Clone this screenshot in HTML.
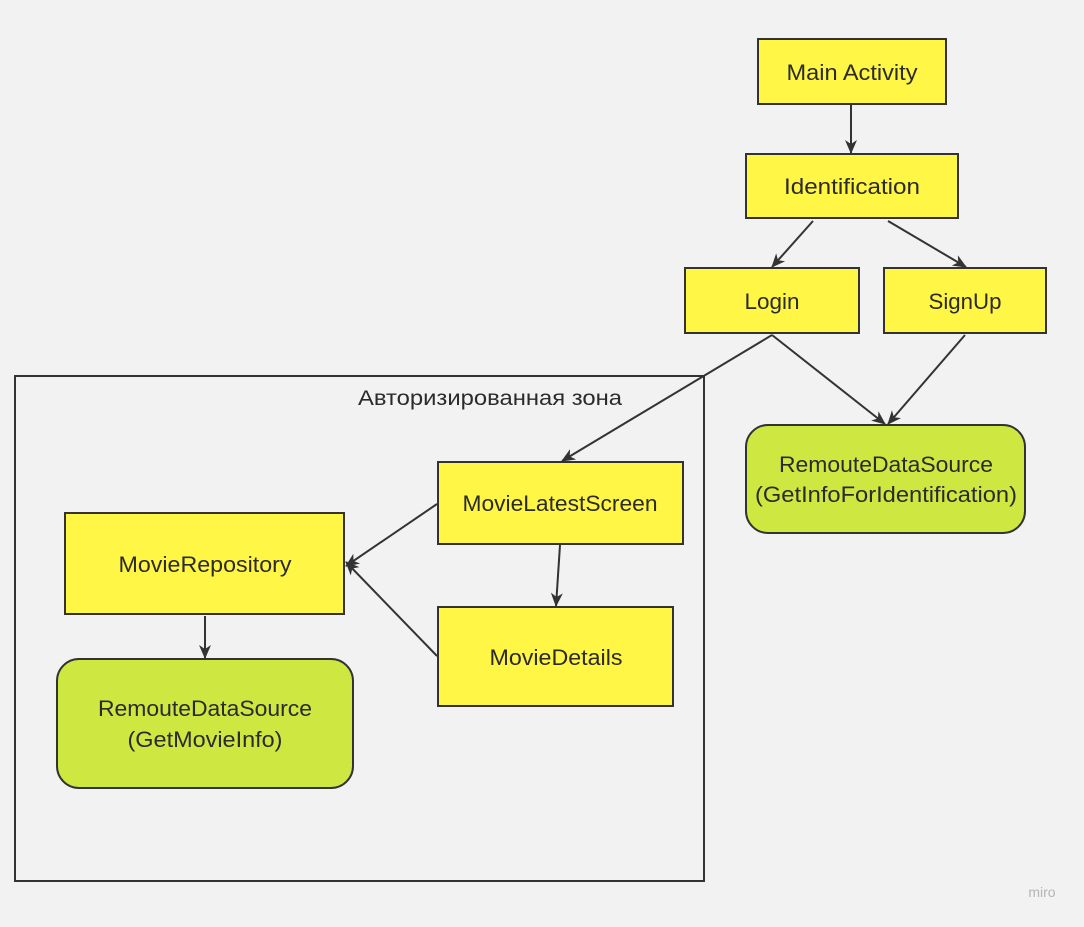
<!DOCTYPE html>
<html><head><meta charset="utf-8"><style>
html,body{margin:0;padding:0;background:#f2f2f2;}
svg text{font-family:"Liberation Sans","DejaVu Sans",sans-serif;fill:#2b2b2b;}
</style></head><body>
<svg width="1084" height="922" viewBox="0 0 1084 922" xmlns="http://www.w3.org/2000/svg">
<defs>
<marker id="a" markerWidth="14" markerHeight="14" refX="13" refY="7" orient="auto" markerUnits="userSpaceOnUse" viewBox="0 0 14 14">
<path d="M0,1 L14,7 L0,13 L4,7 Z" fill="#333"/>
</marker>
</defs>
<rect width="1084" height="922" fill="#f2f2f2"/>
<rect x="15" y="376" width="689" height="505" fill="none" stroke="#333" stroke-width="2"/>
<text x="490" y="405" font-size="21" text-anchor="middle" fill="#444" textLength="264" lengthAdjust="spacingAndGlyphs">Авторизированная зона</text>
<g stroke="#333" stroke-width="2" fill="#fff645">
<rect x="758" y="39" width="188" height="65"/>
<rect x="746" y="154" width="212" height="64"/>
<rect x="685" y="268" width="174" height="65"/>
<rect x="884" y="268" width="162" height="65"/>
<rect x="438" y="462" width="245" height="82"/>
<rect x="65" y="513" width="279" height="101"/>
<rect x="438" y="607" width="235" height="99"/>
<rect x="746" y="425" width="279" height="108" rx="22" fill="#cee741"/>
<rect x="57" y="659" width="296" height="129" rx="22" fill="#cee741"/>
</g>
<g stroke="#333" stroke-width="2" fill="none" marker-end="url(#a)">
<line x1="851" y1="105" x2="851" y2="153"/>
<line x1="813" y1="221" x2="772" y2="267"/>
<line x1="888" y1="221" x2="966" y2="267"/>
<line x1="772" y1="335" x2="562" y2="461"/>
<line x1="772" y1="335" x2="885" y2="424"/>
<line x1="965" y1="335" x2="888" y2="424"/>
<line x1="437" y1="504" x2="346" y2="566"/>
<line x1="437" y1="656" x2="346" y2="562"/>
<line x1="560" y1="545" x2="556" y2="606"/>
<line x1="205" y1="616" x2="205" y2="658"/>
</g>
<g font-size="22" text-anchor="middle" lengthAdjust="spacingAndGlyphs">
<text x="852" y="80" textLength="131" lengthAdjust="spacingAndGlyphs">Main Activity</text>
<text x="852" y="194" textLength="136" lengthAdjust="spacingAndGlyphs">Identification</text>
<text x="772" y="309" textLength="55" lengthAdjust="spacingAndGlyphs">Login</text>
<text x="965" y="309" textLength="73" lengthAdjust="spacingAndGlyphs">SignUp</text>
<text x="560" y="511" textLength="195" lengthAdjust="spacingAndGlyphs">MovieLatestScreen</text>
<text x="205" y="572" textLength="173" lengthAdjust="spacingAndGlyphs">MovieRepository</text>
<text x="556" y="665" textLength="133" lengthAdjust="spacingAndGlyphs">MovieDetails</text>
<text x="886" y="472" textLength="214" lengthAdjust="spacingAndGlyphs">RemouteDataSource</text>
<text x="886" y="502" textLength="262" lengthAdjust="spacingAndGlyphs">(GetInfoForIdentification)</text>
<text x="205" y="716" textLength="214" lengthAdjust="spacingAndGlyphs">RemouteDataSource</text>
<text x="205" y="747" textLength="155" lengthAdjust="spacingAndGlyphs">(GetMovieInfo)</text>
</g>
<text x="1042" y="897" font-size="14" text-anchor="middle" style="fill:#b5b5b5">miro</text>
</svg>
</body></html>
